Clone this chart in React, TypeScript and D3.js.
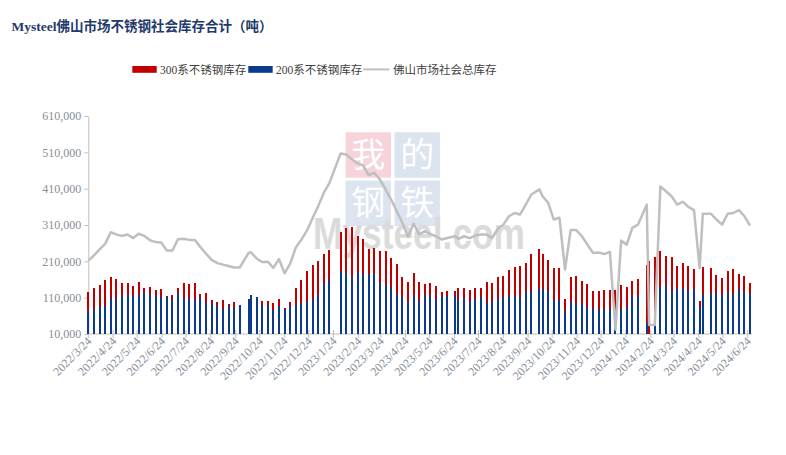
import { useEffect, useRef } from 'react';
import * as d3 from 'd3';

// weekly (Thursday) reports, 2022/3/24 .. 2024/6/27
const firstWeek = new Date(2022, 2, 24);
const afterLastWeek = new Date(2024, 5, 28);

// holiday weeks reported on another day
const shiftedDates: Record<number, string> = {
  28: '2022-10-10',
  65: '2023-06-25',
  80: '2023-10-08',
  99: '2024-02-19',
  110: '2024-04-29',
};

// tons, one entry per week (null = no report)
const stock300 = [
  126000, 137000, 145000, 159000, 167500, 162000, 151000, 151000, 142600, 153600,
  137000, 140000, 131500, 134000, 115000, 117700, 137000, 151000, 148000, 151000,
  120500, 123000, 104000, 98000, 104000, 93000, 98000, 84000, 100000, 110000,
  105000, 101000, 101000, 95600, 106700, 82000, 98000, 137000, 159000, 184000,
  200600, 211700, 231000, 242000, null, 291800, 302800, 305600, 280700, 272400,
  244800, 247600, 239300, 239300, 219900, 203400, 167500, 153600, 178500, 153600,
  148000, 150900, 142600, 126000, 128800, 128800, 137000, 137000, 131500, 137000,
  137000, 153600, 150900, 167500, 170200, 186800, 195000, 197800, 206000, 231000,
  244800, 231000, 214400, 191400, 191400, 107600, 167500, 170200, 156400, 148100,
  128800, 128800, 131500, 131500, 131500, 145400, 139800, 156400, 162000, 200600,
  209800, 223000, 237400, 225500, 222700, 197800, 206500, 197800, 189600, 101600,
  195500, 192300, 173000, 164700, 184000, 189600, 174800, 168800, 150900,
];

const stock200 = [
  73500, 79000, 88000, 88000, 110000, 106700, 117700, 117700, 115000, 117700,
  126000, 117700, 115000, 112000, 112000, 106700, 123000, 109000, 106700, 104000,
  112000, 95600, 95600, 88000, 79000, 87000, 82000, 90000, 106700, 117700,
  112000, 90000, 87000, 76000, 87000, 76000, 87000, 90000, 95600, 98000,
  105000, 117700, 148000, 159000, null, 184000, 178500, 167500, 181000, 175700,
  175700, 175700, 150900, 145400, 139800, 120500, 112200, 98400, 115000, 101000,
  117700, 115000, 105800, 115000, 115000, 117700, 104000, 109400, 99300, 106700,
  112200, 95600, 101000, 106700, 112200, 115000, 115000, 112200, 128800, 128800,
  134300, 134300, 128800, 104000, 104000, 73500, 98400, 95600, 92900, 84600,
  81800, 76300, 78000, 78000, 80000, 78000, 83700, 115000, 115000, 40000,
  null, 32000, 138900, 145400, 129500, 134300, 135500, 129000, 132500, 85000,
  117700, 121400, 126500, 117700, 126000, 121400, 134300, 126500, 121000,
];

const totalStock = [
  212000, 226000, 243000, 258000, 290000, 284000, 280000, 284000, 274000, 286000,
  280000, 268000, 263000, 262000, 240000, 240000, 271000, 272000, 269000, 269000,
  249000, 231000, 214000, 205000, 201000, 197000, 193000, 193000, 233000, 235000,
  218000, 208000, 209000, 192000, 216000, 177000, 204000, 248000, 270000, 295000,
  329000, 362000, 399000, 426000, null, 507000, 504000, 491000, 480000, 474000,
  447000, 454000, 435000, 408000, 380000, 348000, 316000, 277000, 314000, 284000,
  293000, 285000, 279000, 270000, 274000, 279000, 272000, 279000, 274000, 281000,
  284000, 284000, 274000, 299000, 311000, 334000, 343000, 339000, 366000, 394000,
  408000, 389000, 371000, 325000, 330000, 187000, 296000, 296000, 279000, 256000,
  233000, 234000, 230000, 236000, 22000, 267000, 256000, 302000, 311000, 366000,
  35000, 35000, 416000, 403000, 389000, 366000, 374000, 360000, 351000, 191000,
  341000, 341000, 325000, 311000, 341000, 343000, 351000, 334000, 308000,
];

const yTicks = [10000, 110000, 210000, 310000, 410000, 510000, 610000];

const titleText = 'Mysteel佛山市场不锈钢社会库存合计（吨）';
const legendLabels = ['300系不锈钢库存', '200系不锈钢库存', '佛山市场社会总库存'];

const RED = '#c00000';
const BLUE = '#0b3c8c';
const GRAY = '#bfbfbf';
const LABEL = '#868e99';
const SERIF = '"Liberation Serif", "Noto Sans CJK SC", serif';

interface Row {
  date: Date;
  s300: number | null;
  s200: number | null;
  total: number | null;
}

export default function App() {
  const svgRef = useRef<SVGSVGElement>(null);

  useEffect(() => {
    if (!svgRef.current) return;
    const parse = d3.timeParse('%Y-%m-%d');
    const weeks = d3.timeThursday.range(firstWeek, afterLastWeek);
    const rows: Row[] = weeks.map((d, i) => ({
      date: shiftedDates[i] ? parse(shiftedDates[i])! : d,
      s300: stock300[i],
      s200: stock200[i],
      total: totalStock[i],
    }));

    const months = d3
      .timeMonth.range(new Date(2022, 2, 1), new Date(2024, 6, 1))
      .map((m) => new Date(m.getFullYear(), m.getMonth(), 24));

    const x = d3.scaleTime()
      .domain([months[0], months[months.length - 1]])
      .range([88.3, 747.7]);
    const y = d3.scaleLinear().domain([10000, 610000]).range([334, 116]);

    const svg = d3.select(svgRef.current);
    svg.selectAll('*').remove();

    // watermark
    const wm = svg.append('g').attr('opacity', 0.75);
    const cells = [
      { ch: '我', cx: 368.3, cy: 155, fill: '#f5c6cd' },
      { ch: '的', cx: 417.2, cy: 155, fill: '#cfdbea' },
      { ch: '钢', cx: 368.3, cy: 203.3, fill: '#cfdbea' },
      { ch: '铁', cx: 417.2, cy: 203.3, fill: '#cfdbea' },
    ];
    cells.forEach((c) => {
      wm.append('rect')
        .attr('x', c.cx - 22.7).attr('y', c.cy - 22.7)
        .attr('width', 45.4).attr('height', 45.4)
        .attr('fill', c.fill);
      wm.append('text')
        .attr('x', c.cx).attr('y', c.cy + 12)
        .attr('text-anchor', 'middle')
        .attr('font-family', '"Noto Sans CJK SC", sans-serif')
        .attr('font-size', 34)
        .attr('fill', '#fff')
        .text(c.ch);
    });
    wm.append('text')
      .attr('x', 313).attr('y', 249)
      .attr('font-family', '"Liberation Sans", Arial, sans-serif')
      .attr('font-weight', 'bold')
      .attr('font-size', 44)
      .attr('textLength', 212)
      .attr('lengthAdjust', 'spacingAndGlyphs')
      .attr('fill', '#cfcfcf')
      .text('Mysteel.com');

    // title
    svg.append('text')
      .attr('x', 11.5).attr('y', 31)
      .attr('font-family', SERIF)
      .attr('font-weight', 'bold')
      .attr('font-size', 13.5)
      .attr('fill', '#1f3a6b')
      .text(titleText);

    // legend
    const lg = svg.append('g')
      .attr('font-family', SERIF)
      .attr('font-size', 11.5)
      .attr('fill', '#404040');
    lg.append('rect').attr('x', 132.3).attr('y', 66).attr('width', 24.4).attr('height', 6.8).attr('fill', RED);
    lg.append('text').attr('x', 160).attr('y', 73.5).text(legendLabels[0]);
    lg.append('rect').attr('x', 248.3).attr('y', 66).attr('width', 24.4).attr('height', 6.8).attr('fill', BLUE);
    lg.append('text').attr('x', 276).attr('y', 73.5).text(legendLabels[1]);
    lg.append('line').attr('x1', 363.3).attr('x2', 389.3).attr('y1', 69.4).attr('y2', 69.4)
      .attr('stroke', GRAY).attr('stroke-width', 2);
    lg.append('text').attr('x', 393).attr('y', 73.5).text(legendLabels[2]);

    // y axis
    const yAxis = svg.append('g')
      .attr('transform', 'translate(88.3,0)')
      .call(d3.axisLeft(y).tickValues(yTicks).tickSize(4).tickSizeOuter(0).tickFormat(d3.format(',')));
    yAxis.select('.domain').attr('stroke', GRAY);
    yAxis.selectAll('.tick line').attr('stroke', GRAY);
    yAxis.selectAll('.tick text')
      .attr('fill', LABEL)
      .attr('font-family', SERIF)
      .attr('font-size', 12);

    // x axis
    const xAxis = svg.append('g');
    xAxis.append('line')
      .attr('x1', 88.3).attr('x2', 752).attr('y1', 334).attr('y2', 334)
      .attr('stroke', GRAY);
    const ticks = xAxis.selectAll('g.xt').data(months).join('g').attr('class', 'xt');
    ticks.append('line')
      .attr('x1', (d) => x(d)).attr('x2', (d) => x(d))
      .attr('y1', 330).attr('y2', 338)
      .attr('stroke', GRAY);
    ticks.append('text')
      .attr('transform', (d) => `translate(${x(d) + 4},${342}) rotate(-45)`)
      .attr('text-anchor', 'end')
      .attr('font-family', SERIF)
      .attr('font-size', 12)
      .attr('fill', LABEL)
      .text((d) => d3.timeFormat('%Y/%-m/%-d')(d));

    // bars: 300 series behind, 200 series in front
    const barW = 2;
    const bx = (d: Row) => Math.round(x(d.date) - barW / 2);
    svg.append('g')
      .attr('shape-rendering', 'crispEdges')
      .selectAll('rect')
      .data(rows.filter((r) => r.s300 != null))
      .join('rect')
      .attr('x', bx)
      .attr('width', barW)
      .attr('y', (d) => y(d.s300!))
      .attr('height', (d) => Math.max(y(10000) - y(d.s300!), 0))
      .attr('fill', RED);
    svg.append('g')
      .attr('shape-rendering', 'crispEdges')
      .selectAll('rect')
      .data(rows.filter((r) => r.s200 != null))
      .join('rect')
      .attr('x', bx)
      .attr('width', barW)
      .attr('y', (d) => y(d.s200!))
      .attr('height', (d) => Math.max(y(10000) - y(d.s200!), 0))
      .attr('fill', BLUE);

    // total line
    const line = d3.line<Row>()
      .x((d) => x(d.date))
      .y((d) => y(d.total!));
    svg.append('path')
      .datum(rows.filter((r) => r.total != null))
      .attr('d', line)
      .attr('fill', 'none')
      .attr('stroke', GRAY)
      .attr('stroke-width', 2.5)
      .attr('stroke-linejoin', 'round');
  }, []);

  return (
    <svg
      ref={svgRef}
      width={786}
      height={455}
      style={{ position: 'absolute', left: 0, top: 0, background: '#fff' }}
    />
  );
}
